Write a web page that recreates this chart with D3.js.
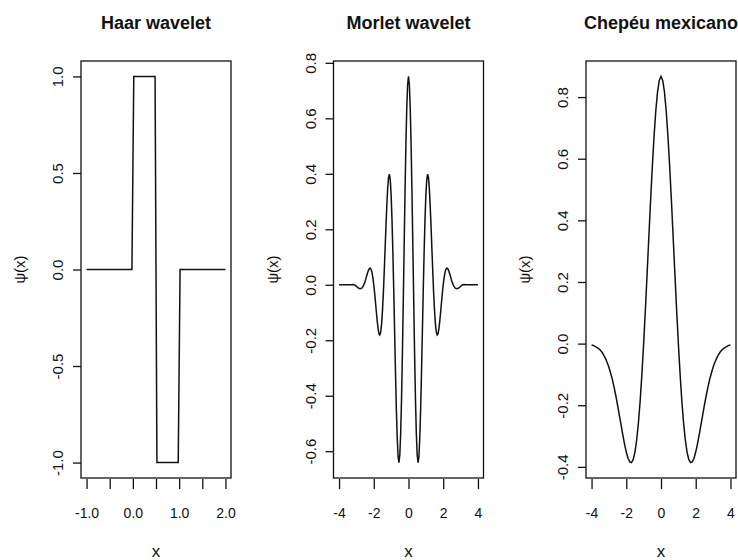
<!DOCTYPE html>
<html>
<head>
<meta charset="utf-8">
<script src="https://cdn.jsdelivr.net/npm/d3@7"></script>
<style>
  html, body { margin: 0; padding: 0; background: #fff; }
  svg { display: block; }
  text { font-family: "Liberation Sans", Arial, sans-serif; fill: #111; }
</style>
</head>
<body>
<svg id="chart" width="738" height="560"></svg>
<script>
// Panel titles and axis labels
const titles = ["Haar wavelet", "Morlet wavelet", "Chepéu mexicano"];
const xLabel = "x";
const yLabel = "ψ(x)";

// Haar wavelet (sampled step function)
const haarX = [-1, -0.02, 0, 0.02, 0.48, 0.5, 0.52, 0.98, 1, 1.02, 2];
const haarY = [0, 0, 0.5, 1, 1, 0, -1, -1, -0.5, 0, 0];

// Morlet wavelet samples
const morletX = [-4, -3.9, -3.8, -3.7, -3.6, -3.5, -3.4, -3.3, -3.2, -3.1, -3, -2.9, -2.8, -2.7, -2.6,
  -2.5, -2.45, -2.4, -2.35, -2.3, -2.25, -2.2, -2.15, -2.1, -2.05, -2, -1.95, -1.9, -1.85, -1.8, -1.75,
  -1.7, -1.65, -1.6, -1.55, -1.5, -1.45, -1.4, -1.35, -1.3, -1.25, -1.2, -1.15, -1.1, -1.05, -1, -0.95,
  -0.9, -0.85, -0.8, -0.75, -0.7, -0.65, -0.6, -0.55, -0.5, -0.45, -0.4, -0.35, -0.3, -0.25, -0.2, -0.15,
  -0.1, -0.05, 0, 0.05, 0.1, 0.15, 0.2, 0.25, 0.3, 0.35, 0.4, 0.45, 0.5, 0.55, 0.6, 0.65, 0.7, 0.75, 0.8,
  0.85, 0.9, 0.95, 1, 1.05, 1.1, 1.15, 1.2, 1.25, 1.3, 1.35, 1.4, 1.45, 1.5, 1.55, 1.6, 1.65, 1.7, 1.75,
  1.8, 1.85, 1.9, 1.95, 2, 2.05, 2.1, 2.15, 2.2, 2.25, 2.3, 2.35, 2.4, 2.45, 2.5, 2.6, 2.7, 2.8, 2.9, 3,
  3.1, 3.2, 3.3, 3.4, 3.5, 3.6, 3.7, 3.8, 3.9, 4];
const morletY = [0, 0, 0, 0, 0, 0, 0, 0, 0.001, -0.001, -0.006, -0.011, -0.014, -0.013, -0.004,
  0.012, 0.023, 0.034, 0.044, 0.053, 0.059, 0.060, 0.055, 0.044, 0.025, 0.000, -0.030, -0.064, -0.099, -0.132, -0.159,
  -0.177, -0.181, -0.170, -0.141, -0.094, -0.032, 0.043, 0.125, 0.209, 0.285, 0.347, 0.387, 0.399, 0.378, 0.323, 0.234,
  0.118, -0.020, -0.168, -0.315, -0.447, -0.552, -0.620, -0.641, -0.613, -0.534, -0.408, -0.245, -0.057, 0.142, 0.334, 0.504,
  0.637, 0.722, 0.751, 0.722, 0.637, 0.504, 0.334, 0.142, -0.057, -0.245, -0.408, -0.534, -0.613, -0.641, -0.620, -0.552, -0.447, -0.315, -0.168,
  -0.020, 0.118, 0.234, 0.323, 0.378, 0.399, 0.387, 0.347, 0.285, 0.209, 0.125, 0.043, -0.032, -0.094, -0.141, -0.170, -0.181, -0.177, -0.159,
  -0.132, -0.099, -0.064, -0.030, 0.000, 0.025, 0.044, 0.055, 0.060, 0.059, 0.053, 0.044, 0.034, 0.023, 0.012, -0.004, -0.013, -0.014, -0.011, -0.006,
  -0.001, 0.001, 0, 0, 0, 0, 0, 0, 0, 0];

// Mexican hat samples
const hatX = [-4, -3.9, -3.8, -3.7, -3.6, -3.5, -3.4, -3.3, -3.2, -3.1, -3, -2.9, -2.8, -2.7, -2.6, -2.5,
  -2.4, -2.3, -2.2, -2.1, -2, -1.9, -1.8, -1.7, -1.6, -1.5, -1.4, -1.3, -1.2, -1.1, -1, -0.9, -0.8, -0.7,
  -0.6, -0.5, -0.4, -0.3, -0.2, -0.1, 0, 0.1, 0.2, 0.3, 0.4, 0.5, 0.6, 0.7, 0.8, 0.9, 1, 1.1, 1.2, 1.3,
  1.4, 1.5, 1.6, 1.7, 1.8, 1.9, 2, 2.1, 2.2, 2.3, 2.4, 2.5, 2.6, 2.7, 2.8, 2.9, 3, 3.1, 3.2, 3.3, 3.4,
  3.5, 3.6, 3.7, 3.8, 3.9, 4];
const hatY = [-0.004, -0.006, -0.009, -0.012, -0.016, -0.021, -0.028, -0.037, -0.048, -0.061, -0.077, -0.096, -0.117, -0.142, -0.170, -0.200,
  -0.232, -0.264, -0.296, -0.326, -0.352, -0.372, -0.384, -0.386, -0.376, -0.352, -0.312, -0.257, -0.186, -0.099, 0, 0.110, 0.227, 0.346,
  0.464, 0.574, 0.673, 0.755, 0.816, 0.854, 0.867, 0.854, 0.816, 0.755, 0.673, 0.574, 0.464, 0.346, 0.227, 0.110, 0, -0.099, -0.186, -0.257,
  -0.312, -0.352, -0.376, -0.386, -0.384, -0.372, -0.352, -0.326, -0.296, -0.264, -0.232, -0.200, -0.170, -0.142, -0.117, -0.096, -0.077, -0.061, -0.048, -0.037, -0.028,
  -0.021, -0.016, -0.012, -0.009, -0.006, -0.004];

// Tick values per panel
const haarXTicks = [-1, -0.5, 0, 0.5, 1, 1.5, 2];
const haarXTickLabels = ["-1.0", "", "0.0", "", "1.0", "", "2.0"];
const haarYTicks = [-1, -0.5, 0, 0.5, 1];
const morletXTicks = [-4, -2, 0, 2, 4];
const morletYTicks = [-0.6, -0.4, -0.2, 0, 0.2, 0.4, 0.6, 0.8];
const hatXTicks = [-4, -2, 0, 2, 4];
const hatYTicks = [-0.4, -0.2, 0, 0.2, 0.4, 0.6, 0.8];

const panels = [
  { title: titles[0], xs: haarX, ys: haarY, xTicks: haarXTicks, xFmt: (d, i) => haarXTickLabels[i], yTicks: haarYTicks, yFmt: d3.format(".1f") },
  { title: titles[1], xs: morletX, ys: morletY, xTicks: morletXTicks, xFmt: d3.format("d"), yTicks: morletYTicks, yFmt: d3.format(".1f") },
  { title: titles[2], xs: hatX, ys: hatY, xTicks: hatXTicks, xFmt: d3.format("d"), yTicks: hatYTicks, yFmt: d3.format(".1f") }
];

const svg = d3.select("#chart");
svg.append("rect").attr("width", 738).attr("height", 560).attr("fill", "#fff");

const boxTop = 61, boxBottom = 478, boxW = 150, panelStep = 252.5, firstLeft = 81;
const dashFix = s => s.replace(/\u2212/g, "-");

// R-style 4% padding around the data range
function padded(ext) {
  const p = (ext[1] - ext[0]) * 0.04;
  return [ext[0] - p, ext[1] + p];
}

panels.forEach((p, i) => {
  const left = firstLeft + i * panelStep;
  const right = left + boxW;
  const cx = (left + right) / 2;

  const x = d3.scaleLinear().domain(padded(d3.extent(p.xs))).range([left, right]);
  const y = d3.scaleLinear().domain(padded(d3.extent(p.ys))).range([boxBottom, boxTop]);

  const g = svg.append("g");

  // curve
  const pts = p.xs.map((v, k) => [v, p.ys[k]]);
  g.append("path")
    .datum(pts)
    .attr("fill", "none")
    .attr("stroke", "#111")
    .attr("stroke-width", 1.5)
    .attr("stroke-linejoin", "miter")
    .attr("d", d3.line().x(d => x(d[0])).y(d => y(d[1])));

  // frame
  g.append("rect")
    .attr("x", left).attr("y", boxTop)
    .attr("width", boxW).attr("height", boxBottom - boxTop)
    .attr("fill", "none").attr("stroke", "#111").attr("stroke-width", 1.3);

  // bottom axis
  const xAxis = d3.axisBottom(x)
    .tickValues(p.xTicks)
    .tickFormat((d, k) => dashFix(String(p.xFmt(d, k))))
    .tickSize(10)
    .tickPadding(19);
  const gx = g.append("g").attr("transform", `translate(0,${boxBottom + 1})`).call(xAxis);
  gx.select(".domain").remove();
  gx.selectAll(".tick line").attr("stroke", "#111").attr("stroke-width", 1.3);
  gx.selectAll(".tick text")
    .attr("fill", "#111")
    .style("font-family", '"Liberation Sans", Arial, sans-serif')
    .style("font-size", "14px");

  // left axis with rotated labels
  const yAxis = d3.axisLeft(y)
    .tickValues(p.yTicks)
    .tickFormat(d => dashFix(p.yFmt(d)))
    .tickSize(8);
  const gy = g.append("g").attr("transform", `translate(${left},0)`).call(yAxis);
  gy.select(".domain").remove();
  gy.selectAll(".tick line").attr("stroke", "#111").attr("stroke-width", 1.3);
  gy.selectAll(".tick text")
    .attr("fill", "#111")
    .attr("transform", "rotate(-90)")
    .attr("x", 0).attr("y", -18).attr("dy", null)
    .attr("text-anchor", "middle")
    .style("font-family", '"Liberation Sans", Arial, sans-serif')
    .style("font-size", "15px");

  // title
  g.append("text")
    .attr("x", cx).attr("y", 29)
    .attr("text-anchor", "middle")
    .style("font-size", "18px").style("font-weight", "bold")
    .text(p.title);

  // x label
  g.append("text")
    .attr("x", cx).attr("y", 557)
    .attr("text-anchor", "middle")
    .style("font-size", "17px")
    .text(xLabel);

  // y label
  g.append("text")
    .attr("transform", `translate(${left - 56},${(boxTop + boxBottom) / 2}) rotate(-90)`)
    .attr("text-anchor", "middle")
    .style("font-size", "15px")
    .text(yLabel);
});
</script>
</body>
</html>
